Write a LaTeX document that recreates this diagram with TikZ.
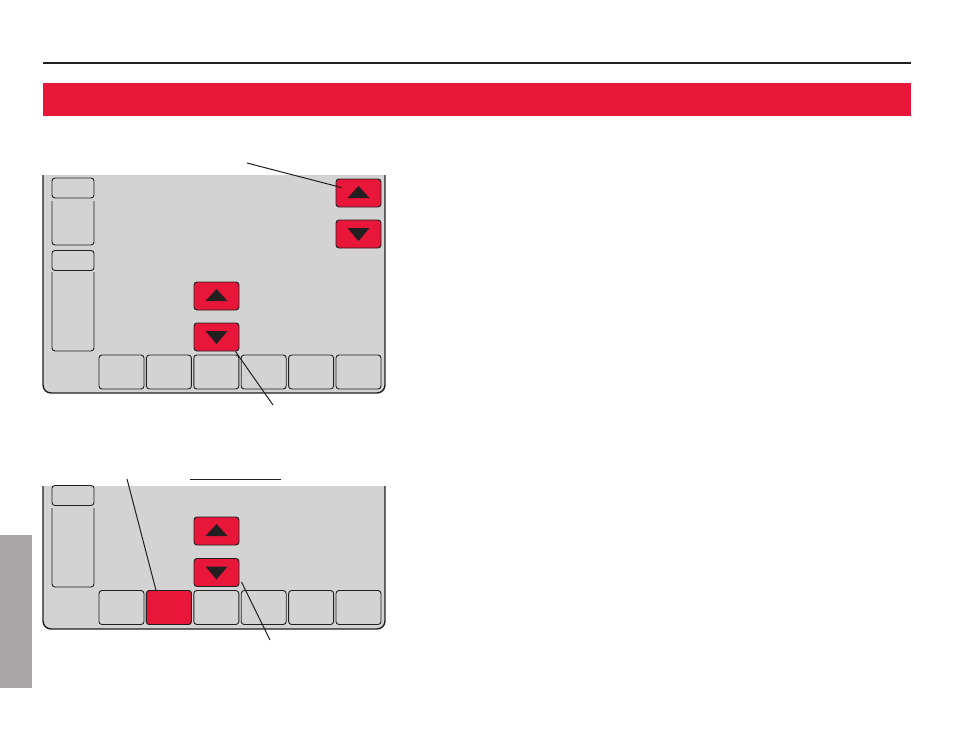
\documentclass[tikz,border=0pt]{standalone}
\usetikzlibrary{calc}
\definecolor{cRojo}{HTML}{E8173A}
\definecolor{cPantalla}{HTML}{D3D3D3}
\definecolor{cPestana}{HTML}{A7A5A6}
\definecolor{cTinta}{HTML}{231F20}
\tikzset{
    x=1pt, y=-1pt,
    frame/.style={draw=cTinta, line width=1.4pt, fill=cPantalla, rounded corners=8pt},
    key/.style={draw=cTinta, line width=0.9pt, rounded corners=3pt, fill=cPantalla,
                minimum width=45pt, minimum height=34pt, inner sep=0pt},
    arrowkey/.style={key, fill=cRojo, minimum height=28pt},
    tabkey/.style={key, minimum width=42pt, minimum height=20pt},
    slot/.style={draw=cTinta, line width=0.9pt, rounded corners=3pt},
    callout/.style={draw=cTinta, line width=1pt},
    tri/.style={fill=cTinta},
}
\newcommand{\flechaUp}[1]{%
    \fill[tri] ($(#1)+(-11,5)$) -- ($(#1)+(11,5)$) -- ($(#1)+(0,-7)$) -- cycle;}
\newcommand{\flechaDown}[1]{%
    \fill[tri] ($(#1)+(-11,-6)$) -- ($(#1)+(11,-6)$) -- ($(#1)+(0,7)$) -- cycle;}
\begin{document}
\begin{tikzpicture}
    \useasboundingbox (0,0) rectangle (954,737);

    % page furniture
    \draw[cTinta, line width=1.5pt] (43,63) -- (911,63);
    \fill[cRojo] (43,83) rectangle (911,116);
    \fill[cPestana] (0,535) rectangle (32,688);

    % first screen
    \begin{scope}
        \clip (0,175) rectangle (954,737);
        \path[frame] (43,150) rectangle (385,393);
    \end{scope}
    \node[tabkey] (tabA) at (73,188) {};
    \draw[slot] (52,201) |- (94,245) -- (94,201);
    \node[tabkey] (tabB) at (73,260.5) {};
    \draw[slot] (52,272) |- (94,351) -- (94,272);

    \node[arrowkey] (upR) at (358.5,193) {};
    \node[arrowkey] (dnR) at (358.5,234) {};
    \node[arrowkey] (upM) at (216.5,296) {};
    \node[arrowkey] (dnM) at (216.5,337) {};
    \flechaUp{upR} \flechaDown{dnR}
    \flechaUp{upM} \flechaDown{dnM}

    \foreach \i in {0,...,5}
        \node[key] (k\i) at (121.5+47.4*\i,372) {};

    \coordinate (lblA) at (247,163);
    \coordinate (lblB) at (273,405);
    \draw[callout] (lblA) -- ($(upR.north west)+(6,9)$);
    \draw[callout] ($(dnM.south east)+(-4,0)$) -- (lblB);

    % second screen
    \begin{scope}
        \clip (0,486) rectangle (954,737);
        \path[frame] (43,460) rectangle (385,629);
    \end{scope}
    \node[tabkey] (tabC) at (73,495.5) {};
    \draw[slot] (52,508) |- (94,587) -- (94,508);

    \node[arrowkey] (upM2) at (216.5,531) {};
    \node[arrowkey] (dnM2) at (216.5,572.5) {};
    \flechaUp{upM2} \flechaDown{dnM2}

    \foreach \i in {0,...,5}
        \node[key] (m\i) at (121.5+47.4*\i,607.5) {};
    \node[key, fill=cRojo] at (m1) {};

    \draw[cTinta, line width=1pt] (190,479) -- (281,479);
    \coordinate (lblC) at (127,479);
    \coordinate (lblD) at (270,640);
    \draw[callout] (lblC) -- ($(m1.north west)+(10,0)$);
    \draw[callout] ($(dnM2.south east)+(2,-5)$) -- (lblD);
\end{tikzpicture}
\end{document}
